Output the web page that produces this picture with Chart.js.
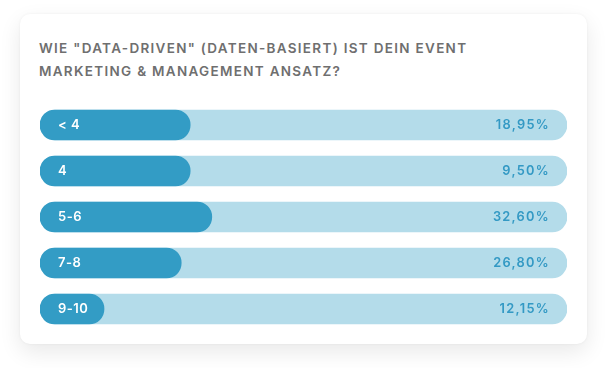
<!DOCTYPE html>
<html>
<head>
<meta charset="utf-8">
<script src="https://cdn.jsdelivr.net/npm/chart.js@4"></script>
<style>
  html, body { margin: 0; padding: 0; background: #ffffff; }
  body { width: 607px; height: 368px; position: relative; overflow: hidden; }
  .card {
    position: absolute; left: 20px; top: 14px; width: 567px; height: 330px;
    background: #ffffff; border-radius: 10px;
    box-shadow: 0 8px 22px rgba(0, 0, 0, 0.09), 0 0 3px rgba(0, 0, 0, 0.05);
  }
  .title {
    position: absolute; left: 39px; top: 37px; width: 520px;
    font-family: Inter, "Open Sans", sans-serif; font-weight: 600; font-size: 13.5px;
    letter-spacing: 1.3px; line-height: 22.7px; color: #6f6f6f; text-transform: uppercase;
  }
  .chart-box { position: absolute; left: 40px; top: 102px; width: 527px; height: 230px; }
</style>
</head>
<body>
<div class="card"></div>
<div class="title">Wie "Data-Driven" (Daten-basiert) ist dein Event<br>Marketing &amp; Management Ansatz?</div>
<div class="chart-box"><canvas id="shareChart"></canvas></div>
<script>
// Antwortkategorien
const categories = ['< 4', '4', '5-6', '7-8', '9-10'];
// Balkenlänge (in %)
const barValues = [28.5, 28.5, 32.6, 26.8, 12.15];
// angezeigte Anteile
const shareLabels = ['18,95%', '9,50%', '32,60%', '26,80%', '12,15%'];
// voller Hintergrundbalken
const trackValues = [100, 100, 100, 100, 100];

// Beschriftungen in den Balken zeichnen
const barLabels = {
    id: 'barLabels',
    afterDatasetsDraw(chart) {
        const ctx = chart.ctx;
        const area = chart.chartArea;
        const meta = chart.getDatasetMeta(1);
        ctx.save();
        ctx.textBaseline = 'middle';
        meta.data.forEach((bar, i) => {
            const y = bar.y + 0.5;
            ctx.letterSpacing = '0.5px';
            ctx.font = '600 13px Inter, "Open Sans", sans-serif';
            ctx.fillStyle = '#ffffff';
            ctx.textAlign = 'left';
            ctx.fillText(categories[i], area.left + 18, y);

            ctx.letterSpacing = '1.3px';
            ctx.font = '600 12.8px Inter, "Open Sans", sans-serif';
            ctx.fillStyle = '#3399c4';
            ctx.textAlign = 'right';
            ctx.fillText(shareLabels[i], area.right - 17, y);
        });
        ctx.restore();
    }
};

const ctx = document.getElementById('shareChart');
new Chart(ctx, {
    type: 'bar',
    data: {
        labels: categories,
        datasets: [{
            data: trackValues,
            backgroundColor: '#b4dcea',
            borderRadius: 15,
            borderSkipped: false,
            barThickness: 30,
            grouped: false,
            order: 2
        }, {
            data: barValues,
            backgroundColor: '#339cc5',
            borderRadius: 15,
            borderSkipped: false,
            barThickness: 30,
            grouped: false,
            order: 1
        }]
    },
    options: {
        indexAxis: 'y',
        responsive: true,
        maintainAspectRatio: false,
        animation: false,
        layout: { padding: 0 },
        scales: {
            x: { display: false, min: 0, max: 100 },
            y: { display: false }
        },
        plugins: {
            legend: { display: false },
            tooltip: { enabled: false }
        }
    },
    plugins: [barLabels]
});
</script>
</body>
</html>
